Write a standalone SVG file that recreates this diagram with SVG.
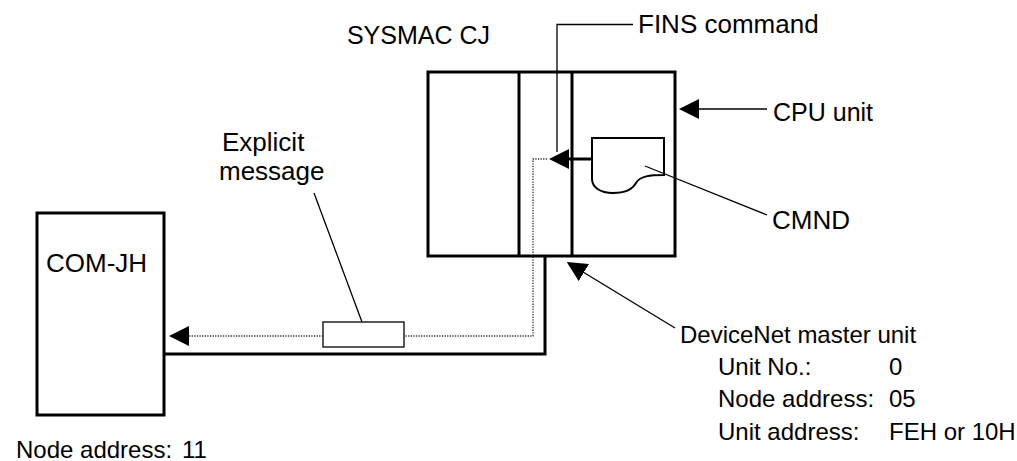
<svg xmlns="http://www.w3.org/2000/svg" width="1017" height="461" viewBox="0 0 1017 461">
<style>
text{font-family:"Liberation Sans",Arial,sans-serif;font-size:25px;fill:#000}
.sm{font-size:24px}
.lg{font-size:26px}
.box{fill:#fff;stroke:#000;stroke-width:3}
.thin{fill:none;stroke:#000;stroke-width:1.3}
.thick{fill:none;stroke:#000;stroke-width:3}
.dot{fill:none;stroke:#333;stroke-width:1.3;stroke-dasharray:1.3 1.3}
</style>
<defs>
<marker id="ah" viewBox="0 0 20 20" refX="1" refY="10" markerWidth="20" markerHeight="20" markerUnits="userSpaceOnUse" orient="auto">
<path d="M0,0 L20,10 L0,20 z" fill="#000"/>
</marker>
</defs>
<g id="plc">
<rect class="box" x="428" y="72" width="247" height="184"/>
<line class="thick" x1="519" y1="72" x2="519" y2="256"/>
<line class="thick" x1="572" y1="72" x2="572" y2="256"/>
<text x="490" y="44" text-anchor="end">SYSMAC CJ</text>
</g>
<g id="cmnd-doc">
<path d="M592,138 H664 V175 C650,175 640,176 636,183 C632,190 625,193 613,193 C600,193 592,187 592,179 Z" fill="#fff" stroke="#000" stroke-width="2"/>
</g>
<g id="com-jh">
<rect class="box" x="37" y="213" width="127" height="202"/>
<text class="lg" x="46" y="272">COM-JH</text>
</g>
<g id="message">
<rect x="323" y="322" width="81" height="25" fill="#fff" stroke="#000" stroke-width="1.3"/>
</g>
<g id="connectors">
<path class="thick" d="M164,354 H545 V256"/>
<path class="dot" d="M547,159 H533 V336 H404"/>
<path class="dot" d="M323,336 H188" marker-end="url(#ah)"/>
<line class="thick" x1="592" y1="159" x2="568" y2="159" marker-end="url(#ah)"/>
<path class="thin" d="M633,24.5 H557 V152"/>
<line class="thin" x1="767" y1="109" x2="698" y2="109" marker-end="url(#ah)"/>
<line class="thin" x1="645" y1="166" x2="767" y2="215"/>
<line class="thin" x1="675" y1="328" x2="583" y2="272" marker-end="url(#ah)"/>
<line class="thin" x1="314" y1="193" x2="362" y2="322"/>
</g>
<g id="labels">
<text class="lg" x="638" y="33">FINS command</text>
<text x="773" y="121">CPU unit</text>
<text class="lg" x="772" y="229">CMND</text>
<text class="lg" x="222" y="151">Explicit</text>
<text class="lg" x="219" y="180">message</text>
<text class="sm" x="680" y="343">DeviceNet master unit</text>
<text class="sm" x="718" y="375">Unit No.:<tspan x="889">0</tspan></text>
<text class="sm" x="718" y="407">Node address:<tspan x="889">05</tspan></text>
<text class="sm" x="718" y="440">Unit address:<tspan x="889">FEH or 10H</tspan></text>
<text class="sm" x="16" y="458">Node address:<tspan x="182">11</tspan></text>
</g>
</svg>
